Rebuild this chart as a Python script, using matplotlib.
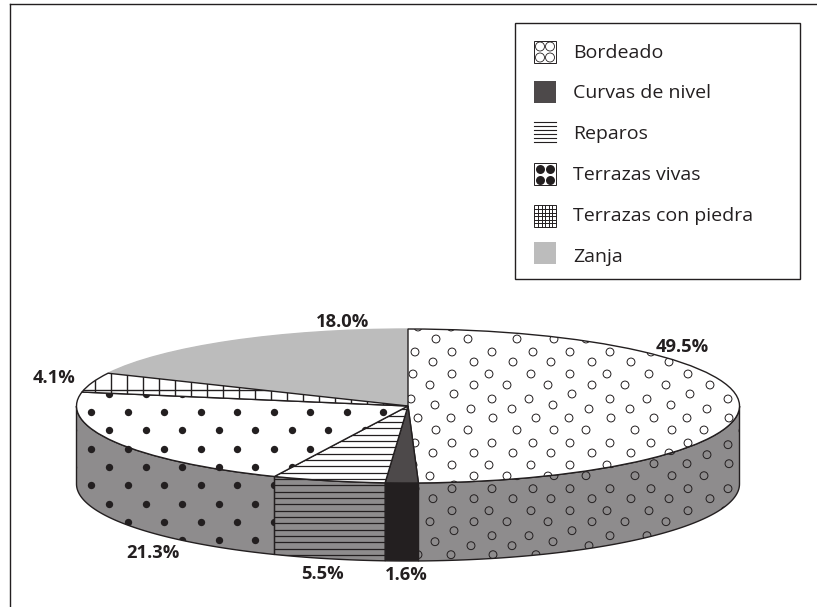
import numpy as np
import matplotlib
matplotlib.use('Agg')
import matplotlib.pyplot as plt
from matplotlib.patches import Polygon, Rectangle
from matplotlib.transforms import Affine2D

W, H = 817, 607

# Data
categories = ['Bordeado', 'Curvas de nivel', 'Reparos', 'Terrazas vivas', 'Terrazas con piedra', 'Zanja']
values = [49.5, 1.6, 5.5, 21.3, 4.1, 18.0]
label_xy = [(682, 352.3), (406, 580), (322, 579), (153, 558.3), (54, 382.7), (343, 327)]

top_colors = ['white', '#4d494a', 'white', 'white', 'white', '#bcbcbc']
wall_colors = ['#8e8c8d', '#231f20', '#8e8c8d', '#8e8c8d', None, None]

# pie geometry in pixels
cx, cy, rx, ry, depth = 408, 406, 331.5, 77, 78

# repeating pattern of open circles (one tile, pixels)
tile_w, tile_h = 118, 91
tile_pts = [(52, 32), (92, 32), (133, 32), (33, 42), (74, 42), (113, 42),
            (52, 54), (89, 54), (131, 54), (30, 65), (74, 65), (107, 65),
            (54, 74), (92, 79), (129, 79), (35, 85), (71, 89), (112, 89),
            (51, 98), (93, 98), (136, 98), (36, 110), (68, 110), (117, 110)]

fig = plt.figure(figsize=(W / 100, H / 100), dpi=100)
ax = fig.add_axes([0, 0, 1, 1])
px = Affine2D().scale(1, -1).translate(0, H)  # pixel coordinates, y going down


def circles_in(patch, dy):
    xs, ys = [], []
    for i in range(-1, 7):
        for j in range(-1, 5):
            for tx, ty in tile_pts:
                xs.append(400 + tx + (i - 2) * tile_w)
                ys.append(320 + ty + j * tile_h + dy)
    c = ax.scatter(xs, ys, s=32, facecolors='none', edgecolors='#231f20', linewidths=0.7,
                   transform=px, zorder=3)
    c.set_clip_path(patch)


def dots_in(patch):
    xs, ys = [], []
    for k, y in enumerate(np.arange(412 - 18.3 * 2, 600, 18.3)):
        for x in np.arange(91 - 36.5 + (18.25 if k % 2 else 0), 420, 36.5):
            xs.append(x)
            ys.append(y)
    c = ax.scatter(xs, ys, s=28, color='#231f20', linewidths=0, transform=px, zorder=3)
    c.set_clip_path(patch)


def hlines_in(patch):
    for y in np.arange(479 - 6.33 * 13, 570, 6.33):
        ln, = ax.plot([200, 450], [y, y], color='#231f20', lw=0.9, transform=px, zorder=3)
        ln.set_clip_path(patch)


def grid_in(patch):
    for x in np.arange(95, 420, 16):
        ln, = ax.plot([x, x], [360, 410], color='#231f20', lw=1.0, transform=px, zorder=3)
        ln.set_clip_path(patch)
    ln, = ax.plot([60, 420], [390, 390], color='#231f20', lw=1.0, transform=px, zorder=3)
    ln.set_clip_path(patch)


# Pie top
wedges, _ = ax.pie(values, startangle=90, counterclock=False, colors=top_colors,
                   wedgeprops={'edgecolor': '#231f20', 'linewidth': 1.0})
ax.set_aspect('auto')
ax.set_xlim(-cx / rx, (W - cx) / rx)
ax.set_ylim((cy - H) / ry, cy / ry)
ax.axis('off')
for w in wedges:
    w.set_zorder(2)
wedges[5].set_edgecolor(top_colors[5])
wedges[5].set_zorder(1.5)

# Side wall, front half of the pie only
edges = 90 - np.cumsum([0] + values) / sum(values) * 360
for i, col in enumerate(wall_colors):
    if col is None:
        continue
    a0 = min(edges[i], 0)
    a1 = max(edges[i + 1], -180)
    t = np.radians(np.linspace(a0, a1, 80))
    top = np.column_stack([np.cos(t), np.sin(t)])
    bot = np.column_stack([np.cos(t), np.sin(t) - depth / ry])[::-1]
    wall = Polygon(np.vstack([top, bot]), closed=True, facecolor=col, edgecolor='#231f20',
                   linewidth=1.0, zorder=1)
    ax.add_patch(wall)
    if i == 0:
        circles_in(wall, 45.7)
    elif i == 2:
        hlines_in(wall)
    elif i == 3:
        dots_in(wall)

circles_in(wedges[0], 0)
hlines_in(wedges[2])
dots_in(wedges[3])
grid_in(wedges[4])

# Value labels
for v, (x, y) in zip(values, label_xy):
    ax.text(x, y, f'{v:.1f}%', transform=px, ha='center', va='baseline', fontsize=13.2,
            fontweight='bold', family='Open Sans', color='#231f20', zorder=5)

# Outer frame (top and left only)
ax.plot([10, W], [4, 4], color='#231f20', lw=1.0, transform=px, clip_on=False)
ax.plot([10, 10], [4, H], color='#231f20', lw=1.0, transform=px, clip_on=False)

# Legend
ax.add_patch(Rectangle((515, 23), 285, 256, facecolor='white', edgecolor='#231f20', lw=1.0,
                       transform=px, zorder=4))
icon_y = [52, 92, 132, 174, 216, 253]
text_y = [58.3, 98.3, 139, 180, 220.7, 262]
size = 22
for name, y, ty, col in zip(categories, icon_y, text_y, top_colors):
    y0 = y - size / 2
    if name == 'Reparos' or col != 'white':
        edge = 'none'
    else:
        edge = '#231f20'
    ax.add_patch(Rectangle((534, y0), size, size, facecolor=col, edgecolor=edge, lw=0.7,
                           transform=px, zorder=5))
    if name == 'Bordeado':
        ax.scatter([540, 550, 540, 550], [y - 5.5, y - 5.5, y + 5.5, y + 5.5], s=42,
                   facecolors='none', edgecolors='#231f20', linewidths=0.6, transform=px, zorder=6)
    elif name == 'Reparos':
        for d in np.linspace(-10, 10, 6):
            ax.plot([534, 556], [y + d, y + d], color='#231f20', lw=0.8, transform=px, zorder=6)
    elif name == 'Terrazas vivas':
        ax.scatter([540, 550, 540, 550], [y - 5.5, y - 5.5, y + 5.5, y + 5.5], s=42,
                   color='#231f20', linewidths=0, transform=px, zorder=6)
    elif name == 'Terrazas con piedra':
        for d in np.linspace(-7, 7, 5):
            ax.plot([534, 556], [y + d, y + d], color='#231f20', lw=0.7, transform=px, zorder=6)
            ax.plot([545 + d, 545 + d], [y0, y0 + size], color='#231f20', lw=0.7, transform=px, zorder=6)
    ax.text(573, ty, name, transform=px, ha='left', va='baseline', fontsize=14,
            family='Open Sans', color='#231f20', zorder=6)

fig.savefig('out.png', dpi=100)
